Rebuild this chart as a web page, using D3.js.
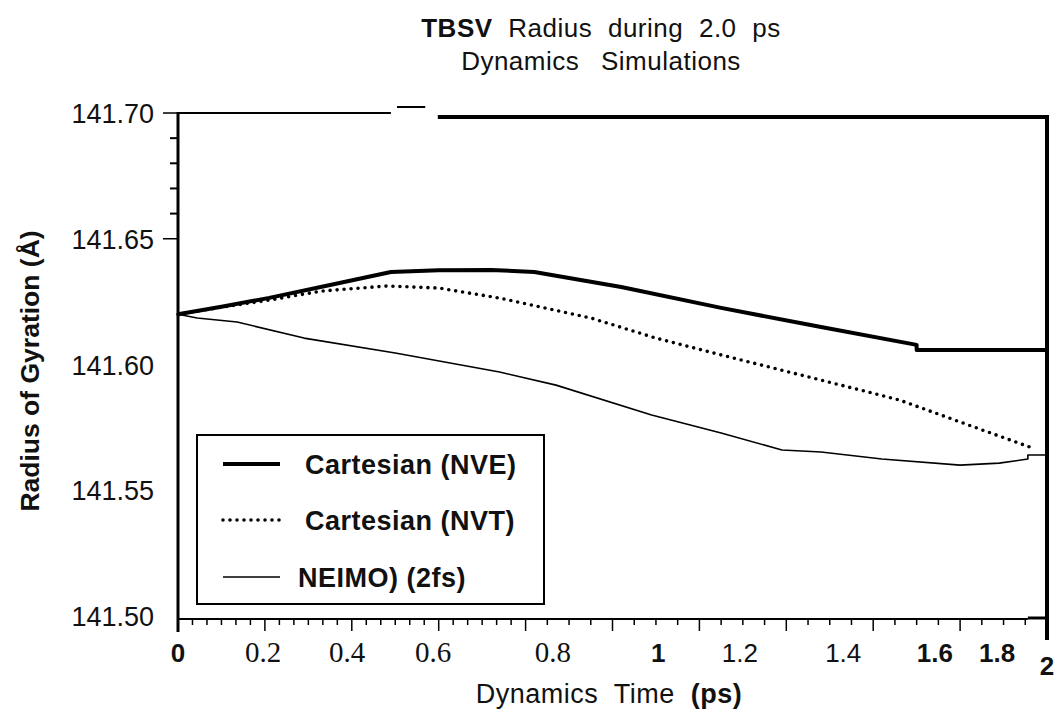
<!DOCTYPE html>
<html>
<head>
<meta charset="utf-8">
<script src="https://cdn.jsdelivr.net/npm/d3@7"></script>
<style>
  body { margin: 0; background: #fff; }
  svg { display: block; }
  text { fill: #111; font-family: "Liberation Sans", Arial, sans-serif; }
</style>
</head>
<body>
<svg id="chart" width="1059" height="713"></svg>
<script>
// values (time in ps, radius in Angstrom)
const timeNVE   = [0, 0.1, 0.21, 0.35, 0.49, 0.6, 0.72, 0.82, 1.02, 1.25, 1.48, 1.70, 1.70, 2.0];
const radiusNVE = [141.620, 141.623, 141.6265, 141.6316, 141.6368, 141.6375, 141.6376, 141.6368,
                   141.6308, 141.6225, 141.6149, 141.6078, 141.6058, 141.6058];

const timeNVT   = [0, 0.1, 0.21, 0.33, 0.48, 0.6, 0.74, 0.95, 1.1, 1.25, 1.48, 1.66, 1.82, 1.96];
const radiusNVT = [141.620, 141.6228, 141.6256, 141.6292, 141.6312, 141.6304, 141.6264, 141.6185,
                   141.6105, 141.6038, 141.5938, 141.5859, 141.5759, 141.5672];

const timeNEIMO   = [0, 0.044, 0.136, 0.29, 0.5, 0.74, 0.87, 1.09, 1.25, 1.39, 1.48, 1.62, 1.80, 1.89, 1.956, 1.956, 2.0];
const radiusNEIMO = [141.620, 141.6185, 141.6169, 141.6105, 141.6046, 141.5970, 141.5918, 141.5799, 141.5728,
                     141.5660, 141.5652, 141.5624, 141.5600, 141.5608, 141.5624, 141.5640, 141.5640];

const seriesNames = ["Cartesian (NVE)", "Cartesian (NVT)", "NEIMO) (2fs)"];

const yTickValues = [141.50, 141.55, 141.60, 141.65, 141.70];
const yTickLabels = ["141.50", "141.55", "141.60", "141.65", "141.70"];
const yMinorTicks = [141.66, 141.67, 141.68, 141.69];

const xTickValues = [0.2, 0.4, 0.6, 0.8, 1.0, 1.2, 1.4, 1.6, 1.8];
const xTickLabels = ["0", "0.2", "0.4", "0.6", "0.8", "1", "1.2", "1.4", "1.6", "1.8", "2"];
// where each printed label sits along the time axis in the scan
const xTickLabelAt = [0, 0.196, 0.389, 0.587, 0.863, 1.105, 1.293, 1.531, 1.742, 1.885, 2.0];

const svg = d3.select("#chart");
const x = d3.scaleLinear().domain([0, 2]).range([178, 1047]);
const y = d3.scaleLinear().domain([141.50, 141.70]).range([616, 113]);
const axisY = 619;

// title
svg.append("text").attr("x", 601).attr("y", 37).attr("text-anchor", "middle")
    .style("font-size", "26px").style("word-spacing", "8px").style("letter-spacing", "0.5px")
    .html('<tspan font-weight="bold">TBSV</tspan> Radius during 2.0 ps');
svg.append("text").attr("x", 601).attr("y", 70).attr("text-anchor", "middle")
    .style("font-size", "26px").style("word-spacing", "14px").style("letter-spacing", "0.5px")
    .text("Dynamics Simulations");

// frame (broken pieces as in the scan)
const frame = svg.append("g").attr("stroke", "#000").attr("fill", "none");
frame.append("line").attr("x1", x(0)).attr("x2", x(0)).attr("y1", y(141.70) - 1).attr("y2", 632).attr("stroke-width", 3);
frame.append("line").attr("x1", x(0)).attr("x2", x(0.49)).attr("y1", y(141.70)).attr("y2", y(141.70)).attr("stroke-width", 2);
frame.append("line").attr("x1", x(0.504)).attr("x2", x(0.569)).attr("y1", y(141.70) - 6).attr("y2", y(141.70) - 6).attr("stroke-width", 2);
frame.append("line").attr("x1", x(0.598)).attr("x2", x(2)).attr("y1", y(141.70) + 4).attr("y2", y(141.70) + 4).attr("stroke-width", 4);
frame.append("line").attr("x1", x(2)).attr("x2", x(2)).attr("y1", y(141.70) + 2).attr("y2", 640).attr("stroke-width", 4);
frame.append("line").attr("x1", x(0)).attr("x2", x(1.956)).attr("y1", axisY).attr("y2", axisY).attr("stroke-width", 2);
frame.append("line").attr("x1", x(1.956)).attr("x2", x(2)).attr("y1", axisY - 1).attr("y2", axisY - 1).attr("stroke-width", 3);

// y ticks
frame.selectAll("line.ymaj").data([141.65, 141.70]).join("line").attr("class", "ymaj")
    .attr("x1", x(0) - 15).attr("x2", x(0)).attr("y1", d => y(d)).attr("y2", d => y(d)).attr("stroke-width", 1.5);
frame.selectAll("line.ymin").data(yMinorTicks).join("line").attr("class", "ymin")
    .attr("x1", x(0) - 8).attr("x2", x(0)).attr("y1", d => y(d)).attr("y2", d => y(d)).attr("stroke-width", 2);

svg.selectAll("text.ylab").data(yTickValues).join("text").attr("class", "ylab")
    .attr("x", 154).attr("y", d => y(d) + 10).attr("text-anchor", "end")
    .style("font-size", "27px")
    .text((d, i) => yTickLabels[i]);

// x ticks: denser minor ticks on the left part of the scanned axis
const xMinor = d3.range(1, 24).map(i => i / 30).concat(d3.range(17, 40).map(i => i * 0.05))
    .filter(t => !xTickValues.some(v => Math.abs(v - t) < 0.01));
frame.selectAll("line.xmin").data(xMinor).join("line").attr("class", "xmin")
    .attr("x1", d => x(d)).attr("x2", d => x(d)).attr("y1", axisY).attr("y2", axisY + 6).attr("stroke-width", 1.5);
frame.selectAll("line.xmaj").data(xTickValues).join("line").attr("class", "xmaj")
    .attr("x1", d => x(d)).attr("x2", d => x(d)).attr("y1", axisY).attr("y2", axisY + 12).attr("stroke-width", 1.5);

const labelFont = {
    "0": "bold", "1": "bold", "1.6": "bold", "1.8": "bold", "2": "bold",
    "0.2": "serif", "0.4": "serif", "0.6": "serif", "0.8": "serif"
};
svg.selectAll("text.xlab").data(xTickLabels).join("text").attr("class", "xlab")
    .attr("x", (d, i) => x(xTickLabelAt[i]))
    .attr("y", d => d === "2" ? 675 : 662)
    .attr("text-anchor", "middle")
    .style("font-size", d => labelFont[d] === "serif" ? "29px" : "26px")
    .style("font-family", d => labelFont[d] === "serif" ? '"Liberation Serif", "Times New Roman", serif' : null)
    .style("font-weight", d => labelFont[d] === "bold" ? "bold" : "normal")
    .text(d => d);

// axis titles
svg.append("text").attr("x", 609).attr("y", 703).attr("text-anchor", "middle")
    .style("font-size", "27px").style("word-spacing", "8px").style("letter-spacing", "0.5px")
    .html('Dynamics Time <tspan font-weight="bold">(ps)</tspan>');
svg.append("text").attr("transform", "translate(39,371) rotate(-90)").attr("text-anchor", "middle")
    .style("font-size", "26.5px").style("font-weight", "bold")
    .text("Radius of Gyration (Å)");

// series
const line = d3.line().x(d => x(d[0])).y(d => y(d[1]));
const styles = [
    { width: 4, dash: null, cap: "butt" },
    { width: 3.6, dash: "0 7", cap: "round" },
    { width: 1.6, dash: null, cap: "butt" }
];
const series = [
    d3.zip(timeNVE, radiusNVE),
    d3.zip(timeNVT, radiusNVT),
    d3.zip(timeNEIMO, radiusNEIMO)
];
svg.selectAll("path.series").data(series).join("path").attr("class", "series")
    .attr("d", line)
    .attr("fill", "none").attr("stroke", "#000")
    .attr("stroke-width", (d, i) => styles[i].width)
    .attr("stroke-dasharray", (d, i) => styles[i].dash)
    .attr("stroke-linecap", (d, i) => styles[i].cap)
    .attr("stroke-linejoin", "round");

// legend
const legend = svg.append("g");
legend.append("rect").attr("x", 197).attr("y", 435).attr("width", 347).attr("height", 169)
    .attr("fill", "#fff").attr("stroke", "#000").attr("stroke-width", 2);
const rowY = [464, 520, 577];
const textX = [305, 305, 298];
seriesNames.forEach((name, i) => {
    legend.append("line").attr("x1", 223).attr("x2", 280).attr("y1", rowY[i]).attr("y2", rowY[i])
        .attr("stroke", "#000")
        .attr("stroke-width", styles[i].width)
        .attr("stroke-dasharray", styles[i].dash)
        .attr("stroke-linecap", styles[i].cap);
    legend.append("text").attr("x", textX[i]).attr("y", rowY[i] + 10)
        .style("font-size", "27px").style("font-weight", "bold").style("letter-spacing", "0.5px")
        .text(name);
});
</script>
</body>
</html>
